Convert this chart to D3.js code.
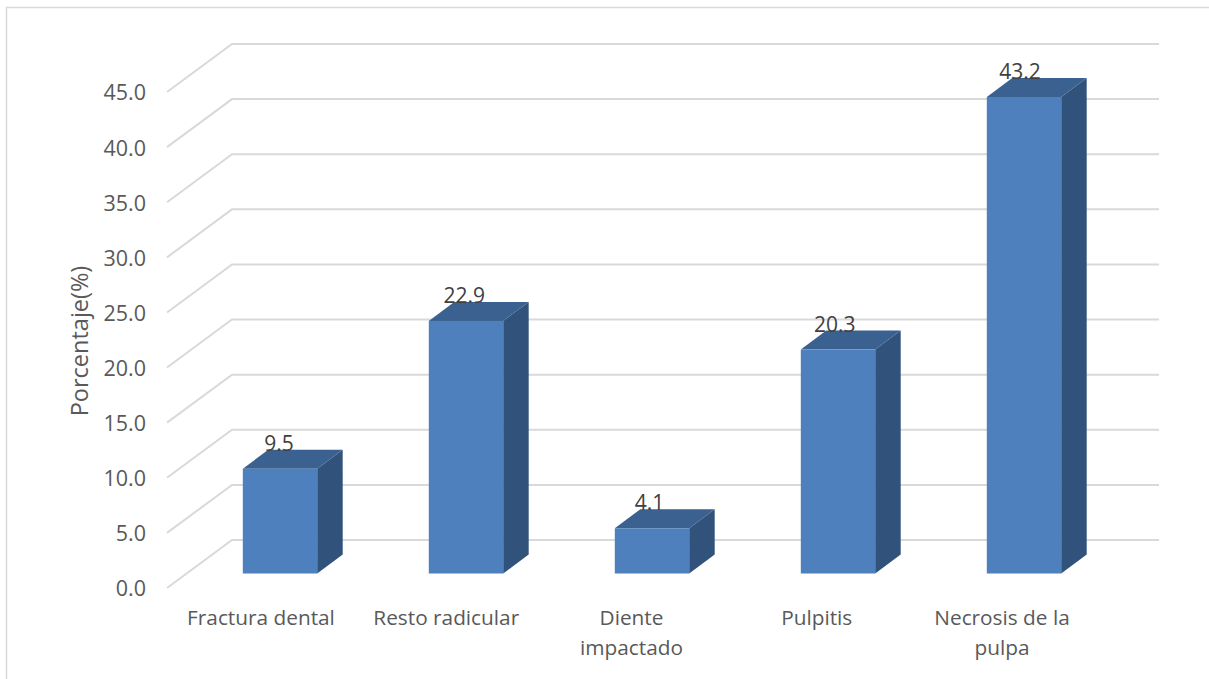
<!DOCTYPE html>
<html>
<head>
<meta charset="utf-8">
<script src="https://cdn.jsdelivr.net/npm/d3@7"></script>
<style>
  html, body { margin: 0; padding: 0; background: #fff; }
  svg { display: block; }
  text { font-family: "Open Sans", sans-serif; }
</style>
</head>
<body>
<svg id="chart" width="1209" height="679"></svg>
<script>
const categories = [["Fractura dental"], ["Resto radicular"], ["Diente", "impactado"], ["Pulpitis"], ["Necrosis de la", "pulpa"]];
const values = [9.5, 22.9, 4.1, 20.3, 43.2];
const tickValues = [0, 5, 10, 15, 20, 25, 30, 35, 40, 45];
const axisTitle = "Porcentaje(%)";

const svg = d3.select("#chart");

// Chart frame: only the top and left edges are ruled
svg.append("path").attr("d", "M6.5,679V7.5H1209")
  .attr("fill", "none").attr("stroke", "#d9d9d9").attr("stroke-width", 1.5);

// Value scale on the front plane of the floor
const y = d3.scaleLinear().domain([0, 45]).range([588, 92]);
const wall = { front: 167, back: 232, right: 1159, rise: 48 };

// Perspective gridlines: a slanted run along the side wall, then the back wall
svg.append("g").selectAll("path").data(tickValues).join("path")
  .attr("d", d => `M${wall.front},${y(d)}L${wall.back},${y(d) - wall.rise}H${wall.right}`)
  .attr("fill", "none").attr("stroke", "#d9d9d9").attr("stroke-width", 2);

// Tick labels, nudged down a pixel from the gridline ends
const axis = d3.axisLeft(y).tickValues(tickValues).tickFormat(d3.format(".1f")).tickSize(0).tickPadding(21);
const gAxis = svg.append("g").attr("transform", `translate(${wall.front},1)`).call(axis);
gAxis.select(".domain").remove();
gAxis.selectAll("text").attr("font-size", 21.5).attr("font-family", "'Open Sans', sans-serif").attr("fill", "#595959");

// Axis title
svg.append("text")
  .attr("transform", "translate(88,341) rotate(-90)")
  .attr("text-anchor", "middle").attr("font-size", 23.5).attr("fill", "#595959")
  .text(axisTitle);

// Bars: band scale for columns, linear scale for heights, plus a fixed extrusion
const x = d3.scaleBand().domain(d3.range(values.length)).range([187, 1117]).paddingInner(0.6).paddingOuter(0.3);
const barY = d3.scaleLinear().domain([0, 45]).range([573.5, 573.5 - 45 * 11.03]);
const depth = { dx: 25.5, dy: 19 };
const bars = svg.append("g").selectAll("g").data(values).join("g");

// Right side
bars.append("path")
  .attr("d", (d, i) => {
    const r = x(i) + x.bandwidth();
    return `M${r},${barY(d)}l${depth.dx},${-depth.dy}V${barY(0) - depth.dy}L${r},${barY(0)}Z`;
  })
  .attr("fill", "#31527a");

// Top
bars.append("path")
  .attr("d", (d, i) => `M${x(i)},${barY(d)}l${depth.dx},${-depth.dy}h${x.bandwidth()}l${-depth.dx},${depth.dy}Z`)
  .attr("fill", "#3a618f");

// Front
bars.append("rect")
  .attr("x", (d, i) => x(i)).attr("y", d => barY(d))
  .attr("width", x.bandwidth()).attr("height", d => barY(0) - barY(d))
  .attr("fill", "#4e80bd");

// Value labels sit just over each bar's top face
const valueX = d3.scalePoint().domain(d3.range(values.length)).range([279, 1020]);
svg.append("g").selectAll("text").data(values).join("text")
  .attr("x", (d, i) => valueX(i))
  .attr("y", d => barY(d) - 18)
  .attr("text-anchor", "middle").attr("font-size", 21).attr("fill", "#404040")
  .text(d => d.toFixed(1));

// Category labels, wrapped over up to two lines
const labelX = d3.scalePoint().domain(d3.range(categories.length)).range([261, 1002]);
svg.append("g").selectAll("text").data(categories).join("text")
  .attr("y", 625).attr("text-anchor", "middle").attr("font-size", 20.8).attr("fill", "#595959")
  .each(function (lines, i) {
    d3.select(this).selectAll("tspan").data(lines).join("tspan")
      .attr("x", labelX(i))
      .attr("dy", (l, k) => k ? 30 : 0)
      .text(l => l);
  });
</script>
</body>
</html>
